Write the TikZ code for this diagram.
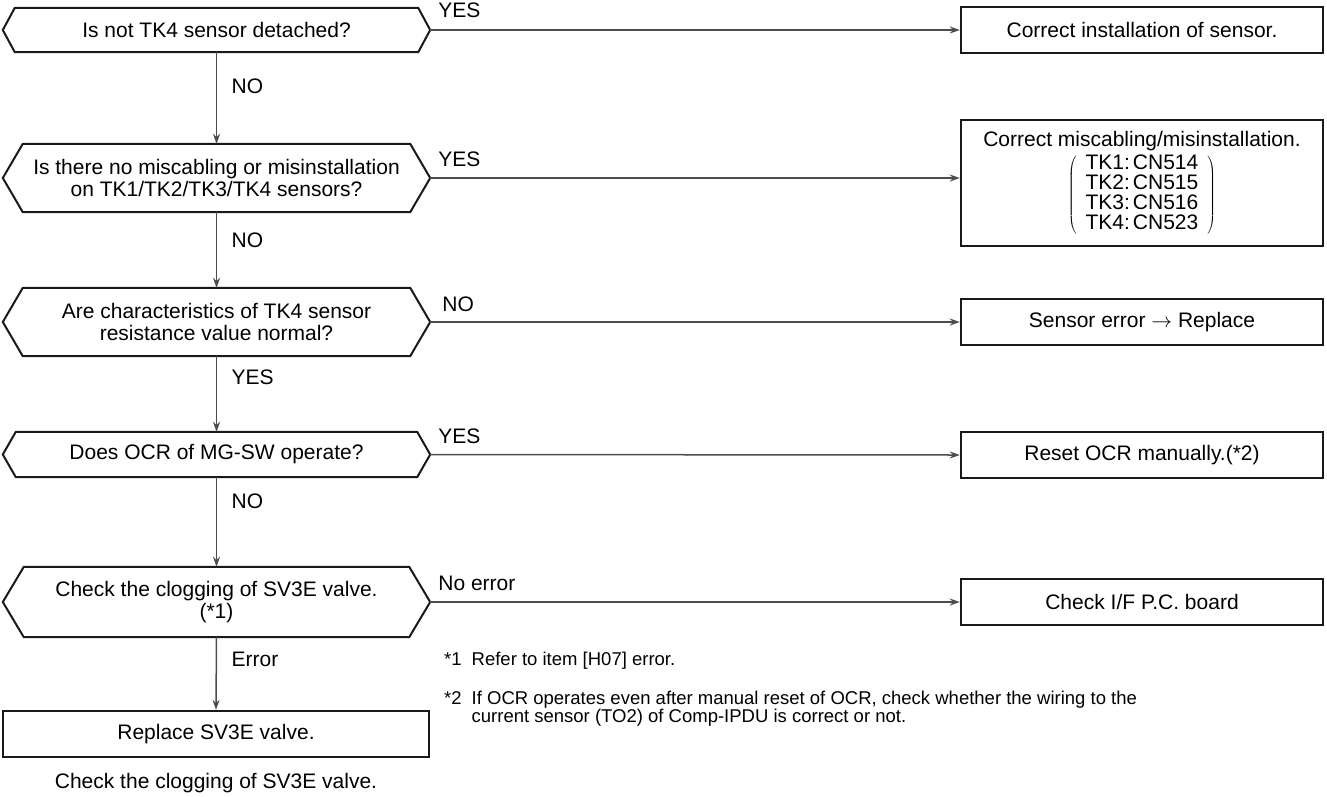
\documentclass[tikz,border=0pt]{standalone}
\usepackage{fontspec}
\setmainfont{Liberation Sans}
\usetikzlibrary{positioning,arrows.meta}

\newcommand{\flowfont}{\fontsize{21}{22}\selectfont}
% hexagon drawn round a plain query node: name, inset of the points
\newcommand{\hexframe}[2]{%
  \draw[hexline] (#1.west) -- ([xshift=#2]#1.north west) -- ([xshift=-#2]#1.north east)
    -- (#1.east) -- ([xshift=-#2]#1.south east) -- ([xshift=#2]#1.south west) -- cycle;}

\begin{document}
\begin{tikzpicture}[x=1pt, y=-1pt,
  every node/.style={font=\flowfont},
  query/.style={minimum width=427pt, inner sep=0pt, align=center},
  hexline/.style={line width=2pt, black!90, line join=miter},
  action/.style={draw=black!90, line width=2.4pt, minimum width=362pt, minimum height=46pt,
    inner sep=0pt, align=center},
  flow/.style={-{Stealth[length=10pt,width=7pt]}, line width=1.5pt, black!70},
  tag/.style={inner sep=0pt}]
  \useasboundingbox (0,0) rectangle (1327,796);

  % questions
  \node[query, minimum height=44pt] (q1) at (216.5,30) {Is not TK4 sensor detached?};
  \node[query, minimum height=68pt] (q2) at (216.5,178)
    {Is there no miscabling or misinstallation\\on TK1/TK2/TK3/TK4 sensors?};
  \node[query, minimum height=68pt] (q3) at (216.5,322)
    {Are characteristics of TK4 sensor\\resistance value normal?};
  \node[query, minimum height=45pt] (q4) at (216.5,454.5) {Does OCR of MG-SW operate?};
  \node[query, minimum height=70pt] (q5) at (216.5,602)
    {Check the clogging of SV3E valve.\\(*1)};
  \hexframe{q1}{12pt}
  \hexframe{q2}{20pt}
  \hexframe{q3}{20pt}
  \hexframe{q4}{13pt}
  \hexframe{q5}{21pt}

  % actions
  \node[action] (a1) at (1142,30) {Correct installation of sensor.};
  \node[action, minimum height=126pt] (a2) at (1142,183)
    {Correct miscabling/misinstallation.\\[3pt]
     $\left(\renewcommand{\arraystretch}{0.84}\begin{tabular}{@{\hspace{9pt}}c@{\hspace{9pt}}}
       TK1:\hspace{3pt}CN514\\TK2:\hspace{3pt}CN515\\TK3:\hspace{3pt}CN516\\TK4:\hspace{3pt}CN523
     \end{tabular}\right)$};
  \node[action] (a3) at (1142,322) {Sensor error $\rightarrow$ Replace};
  \node[action] (a4) at (1142,455) {Reset OCR manually.(*2)};
  \node[action] (a5) at (1142,602) {Check I/F P.C. board};
  \node[action, minimum width=426pt] (r1) at (216,734) {Replace SV3E valve.};
  \node (foot) at (216,783) {Check the clogging of SV3E valve.};

  % connectors
  \draw[flow] (q1.south) -- (q2.north);
  \draw[flow] (q2.south) -- (q3.north);
  \draw[flow] (q3.south) -- (q4.north);
  \draw[flow] (q4.south) -- (q5.north);
  \draw[flow] (q5.south) -- (r1.north);
  \draw[flow] (q1.east) -- (a1.west);
  \draw[flow] (q2.east) -- (q2.east -| a2.west);
  \draw[flow] (q3.east) -- (a3.west);
  \draw[flow] (q4.east) -- (a4.west);
  \draw[flow] (q5.east) -- (a5.west);

  % branch labels
  \node[tag, above right=12pt and 8pt of q1.east] (y1) {YES};
  \node[tag, above right=11pt and 8pt of q2.east] (y2) {YES};
  \node[tag, above right=10pt and 12pt of q3.east] (n3) {NO};
  \node[tag, above right=11pt and 8pt of q4.east] (y4) {YES};
  \node[tag, above right=11pt and 8pt of q5.east] (n5) {No error};
  \node[tag, below right=26pt and 15pt of q1.south] (n1) {NO};
  \node[tag, below right=20pt and 15pt of q2.south] (n2) {NO};
  \node[tag, below right=13pt and 15pt of q3.south] (y3) {YES};
  \node[tag, below right=16pt and 15pt of q4.south] (n4) {NO};
  \node[tag, below right=15pt and 15pt of q5.south] (e5) {Error};

  % notes
  \node[tag, anchor=north west, font=\fontsize{18.5}{17.5}\selectfont] (notes) at (444,652)
    {\begin{tabular}{@{}l@{\hspace{10pt}}l@{}}
      *1 & Refer to item [H07] error.\\[20pt]
      *2 & If OCR operates even after manual reset of OCR, check whether the wiring to the\\
         & current sensor (TO2) of Comp-IPDU is correct or not.
     \end{tabular}};
\end{tikzpicture}
\end{document}
